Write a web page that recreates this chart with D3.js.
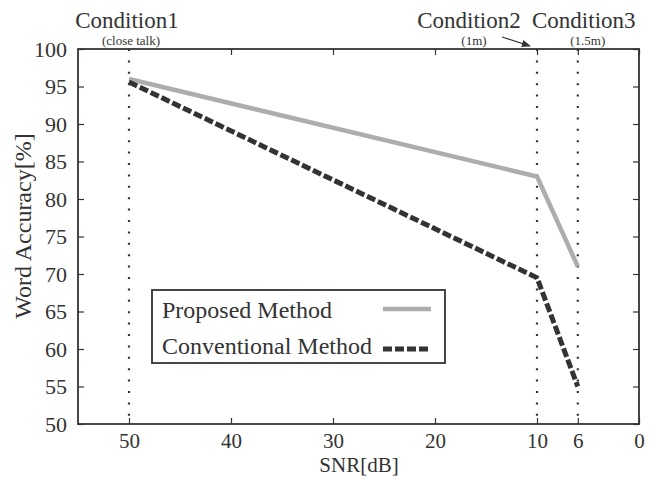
<!DOCTYPE html>
<html>
<head>
<meta charset="utf-8">
<script src="https://cdn.jsdelivr.net/npm/d3@7"></script>
<style>
  body { margin: 0; background: #fff; }
  svg text { font-family: "Liberation Serif", "DejaVu Serif", serif !important; fill: #333; }
</style>
</head>
<body>
<svg id="graph" width="652" height="477"></svg>
<script>
// data
var snr = [50, 10, 6];
var proposed = [96, 83, 71];
var conventional = [95.6, 69.5, 55];
var xTicks = [50, 40, 30, 20, 10, 6, 0];
var yTicks = [50, 55, 60, 65, 70, 75, 80, 85, 90, 95, 100];
var conditions = ["Condition1", "Condition2", "Condition3"];
var condNotes = ["(close talk)", "(1m)", "(1.5m)"];
var legendNames = ["Proposed Method", "Conventional Method"];

var serif = '"Liberation Serif", "DejaVu Serif", serif';

var margin = { top: 49, right: 13, bottom: 53, left: 78 },
  width = 652 - margin.left - margin.right,
  height = 477 - margin.top - margin.bottom;

var svg = d3.select("#graph").style("font-family", serif);
var g = svg.append("g").attr("transform", "translate(" + margin.left + "," + margin.top + ")");

var x = d3.scaleLinear().domain([55, 0]).range([0, width]);
var y = d3.scaleLinear().domain([50, 100]).range([height, 0]);

// vertical dotted lines at each condition
g.selectAll("line.cond")
  .data(snr)
  .enter()
  .append("line")
  .attr("x1", function (d) { return x(d); })
  .attr("x2", function (d) { return x(d); })
  .attr("y1", 0)
  .attr("y2", height)
  .attr("stroke", "#333")
  .attr("stroke-width", 2.2)
  .attr("stroke-dasharray", "2,9.4");

// axes, ticks pointing inward on all four sides
function styleAxis(sel, size) {
  sel.attr("font-family", serif);
  sel.select(".domain").remove();
  sel.selectAll("line").attr("stroke", "#333").attr("stroke-width", 1.2);
  sel.selectAll("text").style("font-size", (size || 22) + "px").style("font-family", serif).attr("fill", "#333");
}

g.append("g")
  .attr("transform", "translate(0," + height + ")")
  .call(d3.axisBottom(x).tickValues(xTicks).tickSize(-6).tickPadding(9).tickFormat(d3.format("d")))
  .call(styleAxis, 21);

g.append("g")
  .call(d3.axisTop(x).tickValues(xTicks.filter(function (d) { return d !== 50; })).tickSize(-6).tickFormat(""))
  .call(styleAxis);

g.append("g")
  .call(d3.axisLeft(y).tickValues(yTicks).tickSize(-6).tickPadding(11).tickFormat(d3.format("d")))
  .call(styleAxis);

g.append("g")
  .attr("transform", "translate(" + width + ",0)")
  .call(d3.axisRight(y).tickValues(yTicks).tickSize(-6).tickFormat(""))
  .call(styleAxis);

// frame
g.append("rect")
  .attr("width", width)
  .attr("height", height)
  .attr("fill", "none")
  .attr("stroke", "#333")
  .attr("stroke-width", 1.8);

var line = d3.line()
  .x(function (d) { return x(d[0]); })
  .y(function (d) { return y(d[1]); });

g.append("path")
  .datum(d3.zip(snr, proposed))
  .attr("d", line)
  .attr("fill", "none")
  .attr("stroke", "#adadad")
  .attr("stroke-width", 4.5);

g.append("path")
  .datum(d3.zip(snr, conventional))
  .attr("d", line)
  .attr("fill", "none")
  .attr("stroke", "#333")
  .attr("stroke-width", 5)
  .attr("stroke-dasharray", "9,3");

// condition labels above the plot
var condOffset = [-2, -68, 6];
svg.selectAll("text.cond")
  .data(conditions)
  .enter()
  .append("text")
  .attr("class", "cond")
  .attr("x", function (d, i) { return margin.left + x(snr[i]) + condOffset[i]; })
  .attr("y", 28)
  .attr("text-anchor", "middle")
  .style("font-family", serif)
  .style("font-size", "23px")
  .text(function (d) { return d; });

var noteOffset = [2, -63, 10];
svg.selectAll("text.note")
  .data(condNotes)
  .enter()
  .append("text")
  .attr("class", "note")
  .attr("x", function (d, i) { return margin.left + x(snr[i]) + noteOffset[i]; })
  .attr("y", 45)
  .attr("text-anchor", "middle")
  .style("font-family", serif)
  .style("font-size", "13px")
  .text(function (d) { return d; });

// arrow from (1m) to the 10 dB line
svg.append("defs").append("marker")
  .attr("id", "arr")
  .attr("viewBox", "0 0 10 10")
  .attr("refX", 9)
  .attr("refY", 5)
  .attr("markerWidth", 7)
  .attr("markerHeight", 7)
  .attr("orient", "auto")
  .append("path")
  .attr("d", "M0,1 L10,5 L0,9 z")
  .attr("fill", "#333");

svg.append("line")
  .attr("x1", margin.left + x(snr[1]) - 35)
  .attr("y1", 37)
  .attr("x2", margin.left + x(snr[1]) - 7)
  .attr("y2", 46)
  .attr("stroke", "#333")
  .attr("stroke-width", 1.3)
  .attr("marker-end", "url(#arr)");

// axis titles
svg.append("text")
  .attr("x", 359)
  .attr("y", 472)
  .attr("text-anchor", "middle")
  .style("font-family", serif)
  .style("font-size", "21px")
  .text("SNR[dB]");

svg.append("text")
  .attr("transform", "translate(31,226) rotate(-90)")
  .attr("text-anchor", "middle")
  .style("font-family", serif)
  .style("font-size", "24px")
  .text("Word Accuracy[%]");

// legend
var legend = svg.append("g").attr("transform", "translate(152,290)");
legend.append("rect")
  .attr("width", 293)
  .attr("height", 73)
  .attr("fill", "#fff")
  .attr("stroke", "#333")
  .attr("stroke-width", 1.8);

legend.selectAll("text.leg")
  .data(legendNames)
  .enter()
  .append("text")
  .attr("class", "leg")
  .attr("x", 10)
  .attr("y", function (d, i) { return 28 + i * 36; })
  .style("font-family", serif)
  .style("font-size", "24px")
  .text(function (d) { return d; });

legend.append("line")
  .attr("x1", 231).attr("x2", 279)
  .attr("y1", 19).attr("y2", 19)
  .attr("stroke", "#adadad")
  .attr("stroke-width", 4.5);

legend.append("line")
  .attr("x1", 231).attr("x2", 279)
  .attr("y1", 59).attr("y2", 59)
  .attr("stroke", "#333")
  .attr("stroke-width", 5)
  .attr("stroke-dasharray", "9,3");
</script>
</body>
</html>
